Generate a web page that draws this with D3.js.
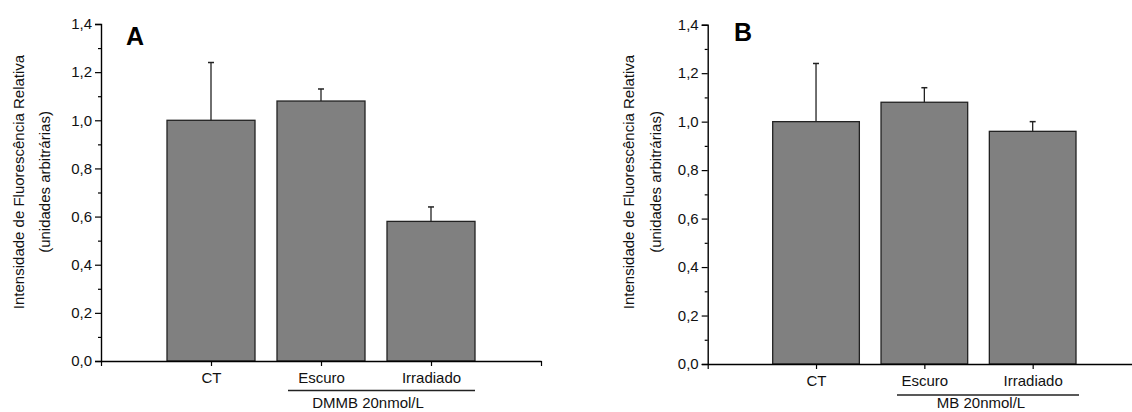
<!DOCTYPE html>
<html>
<head>
<meta charset="utf-8">
<script src="https://cdn.jsdelivr.net/npm/d3@7"></script>
<style>
  html, body { margin: 0; padding: 0; background: #fff; }
  svg { display: block; font-family: "Liberation Sans", Arial, sans-serif; }
</style>
</head>
<body>
<svg id="chart" width="1132" height="412"></svg>
<script>
// Categories and values (relative fluorescence, arbitrary units)
const categories = ["CT", "Escuro", "Irradiado"];
const valuesA = [1.00, 1.08, 0.58];
const errorsA = [0.24, 0.05, 0.06];
const valuesB = [1.00, 1.08, 0.96];
const errorsB = [0.24, 0.06, 0.04];
const yTicks = [0, 0.2, 0.4, 0.6, 0.8, 1.0, 1.2, 1.4];
const yMinorTicks = [0.1, 0.3, 0.5, 0.7, 0.9, 1.1, 1.3];
const groupLabelA = "DMMB 20nmol/L";
const groupLabelB = "MB 20nmol/L";
const yTitle1 = "Intensidade de Fluorescência Relativa";
const yTitle2 = "(unidades arbitrárias)";

const svg = d3.select("#chart");
const fmt = d => d3.format(".1f")(d).replace(".", ",");
const textColor = "#111";

function drawPanel(cfg) {
  const g = svg.append("g");
  const x = d3.scaleLinear().domain([0, 4]).range([cfg.x0, cfg.x1]);
  const y = d3.scaleLinear().domain([0, 1.4]).range([cfg.y0, cfg.y1]);
  const step = x(1) - x(0);
  const bw = step * 0.8;

  // bars
  g.selectAll("rect.bar").data(cfg.values).join("rect")
    .attr("class", "bar")
    .attr("x", (d, i) => x(i + 1) - bw / 2)
    .attr("y", d => y(d))
    .attr("width", bw)
    .attr("height", d => y(0) - y(d))
    .attr("fill", "#808080")
    .attr("stroke", "#222")
    .attr("stroke-width", 1.3);

  // error bars (upper only)
  const eb = g.selectAll("g.err").data(cfg.values.map((v, i) => ({v, e: cfg.errors[i], i}))).join("g");
  eb.append("line")
    .attr("x1", d => x(d.i + 1)).attr("x2", d => x(d.i + 1))
    .attr("y1", d => y(d.v)).attr("y2", d => y(d.v + d.e))
    .attr("stroke", "#222").attr("stroke-width", 1.3);
  eb.append("line")
    .attr("x1", d => x(d.i + 1) - 3).attr("x2", d => x(d.i + 1) + 3)
    .attr("y1", d => y(d.v + d.e)).attr("y2", d => y(d.v + d.e))
    .attr("stroke", "#222").attr("stroke-width", 1.5);

  // y axis
  const yAxis = d3.axisLeft(y).tickValues(yTicks).tickFormat(fmt).tickSize(6).tickPadding(3);
  const ga = g.append("g").attr("transform", `translate(${cfg.x0},0)`).call(yAxis);
  ga.select(".domain").attr("stroke", "#000").attr("stroke-width", 1.4);
  ga.selectAll(".tick line").attr("stroke", "#000").attr("stroke-width", 1.2);
  ga.selectAll("text").attr("font-size", 15).attr("fill", textColor)
    .attr("font-family", "Liberation Sans, Arial, sans-serif");
  const gm = g.append("g").attr("transform", `translate(${cfg.x0},0)`)
    .call(d3.axisLeft(y).tickValues(yMinorTicks).tickFormat("").tickSize(3));
  gm.select(".domain").remove();
  gm.selectAll(".tick line").attr("stroke", "#000").attr("stroke-width", 1.2);

  // x axis
  const xAxis = d3.axisBottom(x).tickValues([0, 1, 2, 3, 4])
    .tickFormat(d => (d >= 1 && d <= 3) ? categories[d - 1] : "")
    .tickSize(5).tickSizeOuter(0).tickPadding(6);
  const gx = g.append("g").attr("transform", `translate(0,${cfg.y0})`).call(xAxis);
  gx.select(".domain").attr("stroke", "#000").attr("stroke-width", 1.6);
  gx.selectAll(".tick line").attr("stroke", "#000").attr("stroke-width", 1.2);
  gx.selectAll("text").attr("font-size", 15).attr("fill", textColor)
    .attr("font-family", "Liberation Sans, Arial, sans-serif");

  // group underline and label
  g.append("line")
    .attr("x1", cfg.ulx0).attr("x2", cfg.ulx1)
    .attr("y1", cfg.uly).attr("y2", cfg.uly)
    .attr("stroke", "#222").attr("stroke-width", 1.3);
  g.append("text")
    .attr("x", cfg.glx).attr("y", cfg.gly)
    .attr("text-anchor", "middle").attr("font-size", 15).attr("fill", textColor)
    .text(cfg.group);

  // panel letter
  g.append("text")
    .attr("x", cfg.lx).attr("y", cfg.ly)
    .attr("font-size", 25).attr("font-weight", "bold").attr("fill", "#000")
    .text(cfg.letter);

  // y title (two lines)
  const cy = 182;
  g.append("text")
    .attr("transform", `translate(${cfg.t1x},${cy}) rotate(-90)`)
    .attr("text-anchor", "middle").attr("dominant-baseline", "central")
    .attr("font-size", 15).attr("fill", textColor).text(yTitle1);
  g.append("text")
    .attr("transform", `translate(${cfg.t2x},${cy}) rotate(-90)`)
    .attr("text-anchor", "middle").attr("dominant-baseline", "central")
    .attr("font-size", 15).attr("fill", textColor).text(yTitle2);
}

drawPanel({
  values: valuesA, errors: errorsA, group: groupLabelA, letter: "A",
  x0: 101, x1: 541, y0: 361, y1: 24,
  ulx0: 288, ulx1: 475, uly: 390.5, glx: 368, gly: 407.5,
  lx: 126, ly: 45, t1x: 18, t2x: 44
});
drawPanel({
  values: valuesB, errors: errorsB, group: groupLabelB, letter: "B",
  x0: 707.7, x1: 1141, y0: 364, y1: 24.7,
  ulx0: 897, ulx1: 1079, uly: 395, glx: 981, gly: 408,
  lx: 734, ly: 41, t1x: 628, t2x: 655
});
</script>
</body>
</html>
